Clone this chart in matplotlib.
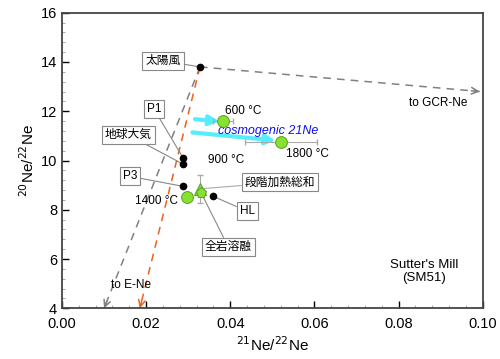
import matplotlib
matplotlib.use("Agg")
import matplotlib.pyplot as plt
from matplotlib.ticker import MultipleLocator

plt.rcParams['font.family'] = ['Liberation Sans', 'Noto Sans CJK JP', 'DejaVu Sans']

# Reference end-members / black points
ref_names = ["太陽風", "P1", "地球大気", "P3", "HL"]
ref_x = [0.0328, 0.0288, 0.0288, 0.0288, 0.0359]
ref_y = [13.80, 10.10, 9.85, 8.95, 8.55]

# Step-heating temperature fractions (green circles)
temp_labels = ["600 °C", "1800 °C", "1400 °C"]
temp_x = [0.0382, 0.0520, 0.0297]
temp_y = [11.60, 10.77, 8.53]
temp_xerr = [0.0024, 0.0086, 0.0]
temp_yerr = [0.0, 0.15, 0.0]

# Sum / total melt
sum_x, sum_y = 0.0328, 8.85      # 段階加熱総和
melt_x, melt_y = 0.0331, 8.68    # 全岩溶融
sum_yerr = 0.58

# Mixing line end points
ene_gray = (0.0100, 4.0)
ene_orange = (0.0185, 4.0)
gcr_end = (0.0993, 12.80)

fig = plt.figure(figsize=(5.0, 3.59), dpi=100)
ax = fig.add_axes([0.124, 0.1412, 0.8414, 0.8234])
ax.set_xlim(0, 0.10)
ax.set_ylim(4, 16)

sw = (ref_x[0], ref_y[0])
gray = '#808080'
orange = '#E8641E'

def dashed_arrow(start, end, color):
    ax.plot([start[0], end[0]], [start[1], end[1]], color=color, lw=1.1,
            dashes=(5, 4), zorder=2)
    # arrow head only
    fx = start[0] + (end[0] - start[0]) * 0.97
    fy = start[1] + (end[1] - start[1]) * 0.97
    ax.annotate('', xy=end, xytext=(fx, fy),
                arrowprops=dict(arrowstyle='->', color=color, lw=1.1,
                                shrinkA=0, shrinkB=0, mutation_scale=12), zorder=2)

dashed_arrow(sw, ene_gray, gray)
dashed_arrow(sw, ene_orange, orange)
dashed_arrow(sw, gcr_end, gray)

# cosmogenic arrows (cyan)
cyan = '#55EEFF'
ax.annotate('', xy=(0.0374, 11.59), xytext=(0.0316, 11.68),
            arrowprops=dict(arrowstyle='-|>', color=cyan, lw=3, shrinkA=0, shrinkB=0,
                            mutation_scale=14), zorder=3)
ax.annotate('', xy=(0.0508, 10.81), xytext=(0.0310, 11.14),
            arrowprops=dict(arrowstyle='-|>', color=cyan, lw=3, shrinkA=0, shrinkB=0,
                            mutation_scale=14), zorder=3)

# error bars
ax.errorbar(temp_x, temp_y, xerr=temp_xerr, yerr=temp_yerr, fmt='none',
            ecolor='#aaaaaa', elinewidth=0.8, capsize=2.5, zorder=3)
ax.errorbar([sum_x], [sum_y], yerr=[sum_yerr], fmt='none',
            ecolor='#aaaaaa', elinewidth=0.8, capsize=2.5, zorder=3)

# leader lines and boxed labels
box = dict(boxstyle='square,pad=0.25', fc='white', ec='#888888', lw=0.8)
label_pos = {
    "太陽風": (0.0240, 14.05),
    "P1": (0.0219, 12.08),
    "地球大気": (0.0157, 11.04),
    "P3": (0.0161, 9.36),
    "HL": (0.0440, 7.94),
}
for n, x, y in zip(ref_names, ref_x, ref_y):
    lx, ly = label_pos[n]
    ax.annotate(n, xy=(x, y), xytext=(lx, ly), fontsize=8.5, ha='center', va='center',
                bbox=box, zorder=5,
                arrowprops=dict(arrowstyle='-', color='#888888', lw=0.8,
                                shrinkA=0, shrinkB=0))
ax.annotate("段階加熱総和", xy=(sum_x, sum_y), xytext=(0.0518, 9.11), fontsize=8.5,
            ha='center', va='center', bbox=box, zorder=5,
            arrowprops=dict(arrowstyle='-', color='#aaaaaa', lw=0.8, shrinkA=0, shrinkB=0))
ax.annotate("全岩溶融", xy=(melt_x, melt_y), xytext=(0.0395, 6.50), fontsize=8.5,
            ha='center', va='center', bbox=box, zorder=5,
            arrowprops=dict(arrowstyle='-', color='#888888', lw=0.8, shrinkA=0, shrinkB=0))

# points
ax.plot(ref_x, ref_y, 'o', color='black', ms=4.5, zorder=6)
ax.plot(temp_x, temp_y, 'o', mfc='#88E030', mec='#55A020', ms=8.5, mew=0.7, zorder=6)
ax.plot([sum_x], [sum_y], '^', mfc='#88E030', mec='#55A020', ms=8, mew=0.7, zorder=6)
ax.plot([melt_x], [melt_y], 'p', mfc='#88E030', mec='#55A020', ms=8, mew=0.7, zorder=6)

# text labels
ax.text(0.0430, 12.00, "600 °C", fontsize=8.5, ha='center', va='center')
ax.text(0.0391, 10.03, "900 °C", fontsize=8.5, ha='center', va='center')
ax.text(0.0584, 10.27, "1800 °C", fontsize=8.5, ha='center', va='center')
ax.text(0.0225, 8.34, "1400 °C", fontsize=8.5, ha='center', va='center')
ax.text(0.0490, 11.20, "cosmogenic 21Ne", fontsize=9, style='italic', color='#1010F0',
        ha='center', va='center')
ax.text(0.0165, 4.93, "to E-Ne", fontsize=8.5, ha='center', va='center')
ax.text(0.0894, 12.33, "to GCR-Ne", fontsize=8.5, ha='center', va='center')
ax.text(0.0860, 5.50, "Sutter's Mill\n(SM51)", fontsize=9.5, ha='center', va='center',
        linespacing=1.1)

ax.set_xlabel(r"$^{21}$Ne/$^{22}$Ne", fontsize=11, labelpad=3)
ax.set_ylabel(r"$^{20}$Ne/$^{22}$Ne", fontsize=11, labelpad=3)
ax.xaxis.set_major_locator(MultipleLocator(0.02))
ax.xaxis.set_minor_locator(MultipleLocator(0.004))
ax.yaxis.set_major_locator(MultipleLocator(2))
ax.yaxis.set_minor_locator(MultipleLocator(0.4))
ax.xaxis.set_major_formatter(plt.FuncFormatter(lambda v, p: f"{v:.2f}"))
ax.tick_params(direction='in', which='major', length=5, width=1, labelsize=10.5)
ax.tick_params(axis='x', which='major', pad=6)
ax.tick_params(direction='in', which='minor', length=2.5, width=0.6, color='#999999')
for s in ax.spines.values():
    s.set_color('#444444')
    s.set_linewidth(1.3)

fig.savefig('out.png', dpi=100)
